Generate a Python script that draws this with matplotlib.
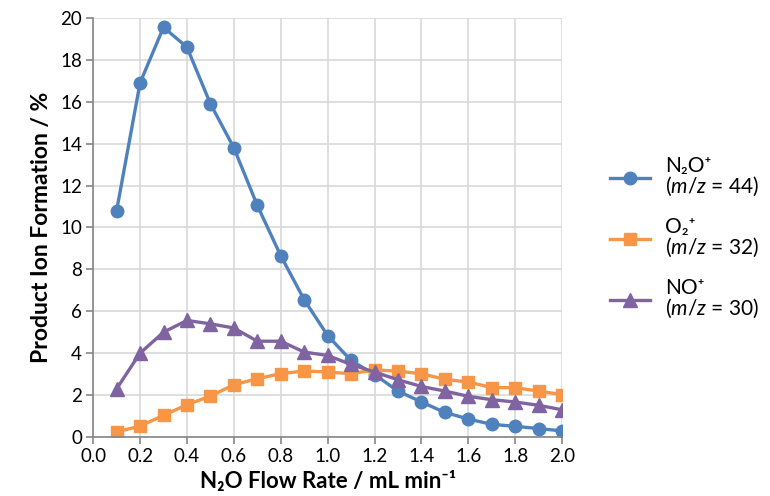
import matplotlib
matplotlib.use("Agg")
import matplotlib.pyplot as plt

plt.rcParams['font.family'] = ['Lato', 'DejaVu Sans']
plt.rcParams['mathtext.fontset'] = 'custom'
plt.rcParams['mathtext.rm'] = 'Lato'
plt.rcParams['mathtext.it'] = 'Lato:italic'

# flow rate (mL/min) and product ion formation (%)
flow = [0.1, 0.2, 0.3, 0.4, 0.5, 0.6, 0.7, 0.8, 0.9, 1.0,
        1.1, 1.2, 1.3, 1.4, 1.5, 1.6, 1.7, 1.8, 1.9, 2.0]
n2o = [10.8, 16.9, 19.55, 18.6, 15.9, 13.8, 11.05, 8.65, 6.55, 4.84,
       3.65, 2.98, 2.19, 1.67, 1.17, 0.86, 0.6, 0.51, 0.4, 0.29]
o2 = [0.24, 0.52, 1.03, 1.54, 1.95, 2.49, 2.78, 3.02, 3.15, 3.1,
      3.02, 3.2, 3.14, 3.02, 2.75, 2.62, 2.36, 2.35, 2.19, 2.02]
no = [2.3, 4.0, 5.0, 5.56, 5.4, 5.2, 4.57, 4.57, 4.05, 3.89,
      3.46, 3.1, 2.73, 2.41, 2.19, 1.94, 1.78, 1.67, 1.51, 1.3]

labels = ["N\u2082O\u207a\n($m/z$ = 44)",
          "O\u2082\u207a\n($m/z$ = 32)",
          "NO\u207a\n($m/z$ = 30)"]

fig = plt.figure(figsize=(7.7, 4.96), dpi=100)
ax = fig.add_axes([0.121, 0.119, 0.609, 0.845])

ax.plot(flow, n2o, color='#4F81BD', marker='o', ms=9, lw=2.4, label=labels[0])
ax.plot(flow, o2, color='#F79646', marker='s', ms=8.5, lw=2.4, label=labels[1])
ax.plot(flow, no, color='#8064A2', marker='^', ms=10, lw=2.4, label=labels[2])

ax.set_xlim(0, 2.0)
ax.set_ylim(0, 20)
ax.set_xticks([i / 10 for i in range(0, 21, 2)])
ax.set_xticklabels([f"{i / 10:.1f}" for i in range(0, 21, 2)])
ax.set_yticks(range(0, 21, 2))
ax.grid(True, color='#d9d9d9', lw=1.2)
ax.set_axisbelow(True)

for s in ['top', 'right']:
    ax.spines[s].set_visible(False)
for s in ['left', 'bottom']:
    ax.spines[s].set_color('#868686')
    ax.spines[s].set_linewidth(1.2)
ax.tick_params(direction='out', length=5, width=1.2, color='#868686',
               labelsize=13.5, pad=3)

ax.set_xlabel("N\u2082O Flow Rate / mL min\u207b\u00b9", fontsize=16,
              fontweight='bold', labelpad=4)
ax.set_ylabel("Product Ion Formation / %", fontsize=16.5,
              fontweight='bold', labelpad=6)

leg = fig.legend(loc='center left', bbox_to_anchor=(0.781, 0.52), frameon=False,
                 fontsize=15, handlelength=1.95, labelspacing=0.9,
                 handletextpad=0.7, borderaxespad=0)
for t in leg.get_texts():
    t.set_linespacing(0.95)

fig.savefig("out.png", dpi=100)
